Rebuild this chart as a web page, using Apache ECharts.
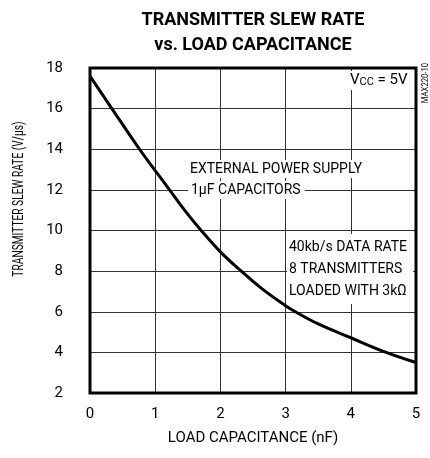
<!DOCTYPE html>
<html><head><meta charset="utf-8">
<script src="https://cdn.jsdelivr.net/npm/echarts@6/dist/echarts.min.js"></script>
<style>html,body{margin:0;padding:0;background:#fff}#c{width:430px;height:458px}</style>
</head><body><div id="c"></div>
<script>
const FONT = '"Roboto", "Liberation Sans", sans-serif';
const titleLines = ['TRANSMITTER SLEW RATE', 'vs. LOAD CAPACITANCE'];
const xAxisName = 'LOAD CAPACITANCE (nF)';
const yAxisName = 'TRANSMITTER SLEW RATE (V/μs)';
const capacitance = [0, 0.325, 0.76, 1, 1.22, 1.45, 1.705, 2, 2.32, 2.65, 3, 3.15, 3.5, 4, 4.5, 5];
const slewRate = [17.6, 16.05, 14, 12.95, 12, 11.0, 10, 8.95, 8, 7.1, 6.3, 6, 5.4, 4.72, 4.05, 3.5];
const noteSupply = ['EXTERNAL POWER SUPPLY', '1μF CAPACITORS'];
const noteLoad = ['40kb/s DATA RATE', '8 TRANSMITTERS', 'LOADED WITH 3kΩ'];
const partNo = 'MAX220-10';

const chart = echarts.init(document.getElementById('c'));
const lineData = capacitance.map((x, i) => [x, slewRate[i]]);
const txt = (x, y, text, extra) => ({
  type: 'text', x, y, z: 100,
  style: Object.assign({ text, fill: '#000', font: '14px ' + FONT, backgroundColor: '#fff' }, extra || {})
});
chart.setOption({
  animation: false,
  grid: { left: 90, right: 14, top: 68, bottom: 65, show: true, borderColor: '#000', borderWidth: 3, z: 10 },
  xAxis: {
    type: 'value', min: 0, max: 5, interval: 1,
    name: xAxisName, nameLocation: 'middle', nameGap: 38,
    nameTextStyle: { fontFamily: FONT, fontSize: 15, color: '#000' },
    axisLine: { show: false }, axisTick: { show: false },
    axisLabel: { fontFamily: FONT, fontSize: 15, color: '#000', margin: 14 },
    splitLine: { lineStyle: { color: '#333', width: 1 } }
  },
  yAxis: {
    type: 'value', min: 2, max: 18, interval: 2,
    axisLine: { show: false }, axisTick: { show: false },
    axisLabel: { fontFamily: FONT, fontSize: 15, color: '#000', margin: 27 },
    splitLine: { lineStyle: { color: '#333', width: 1 } }
  },
  series: [{
    type: 'line', data: lineData, smooth: 0.4, symbol: 'none',
    lineStyle: { color: '#000', width: 3 }, z: 5
  }],
  graphic: [
    { type: 'text', x: 253, y: 8, style: { text: titleLines.join('\n'), fill: '#000', font: 'bold 18px ' + FONT, align: 'center', lineHeight: 25 } },
    { type: 'text', x: 19, y: 199, rotation: Math.PI / 2, scaleX: 0.68, style: { text: yAxisName, fill: '#000', font: '15px ' + FONT, align: 'center', verticalAlign: 'middle' } },
    txt(348, 71, '{v|V}{s|CC}{v| = 5V}', { padding: [2, 2, 2, 2], rich: { v: { fontFamily: FONT, fontSize: 15, verticalAlign: 'bottom' }, s: { fontFamily: FONT, fontSize: 11, verticalAlign: 'bottom' } } }),
    txt(188, 160, noteSupply[0], { padding: [2, 2, 2, 2] }),
    txt(188, 181, noteSupply[1], { padding: [2, 4, 2, 3] }),
    txt(287, 234, noteLoad.join('\n'), { padding: [2, 6, 2, 2], lineHeight: 22 }),
    { type: 'text', x: 426, y: 63, rotation: Math.PI / 2, scaleX: 0.85, style: { text: partNo, fill: '#000', font: '9px ' + FONT, align: 'right', verticalAlign: 'middle' } }
  ]
});
</script></body></html>
